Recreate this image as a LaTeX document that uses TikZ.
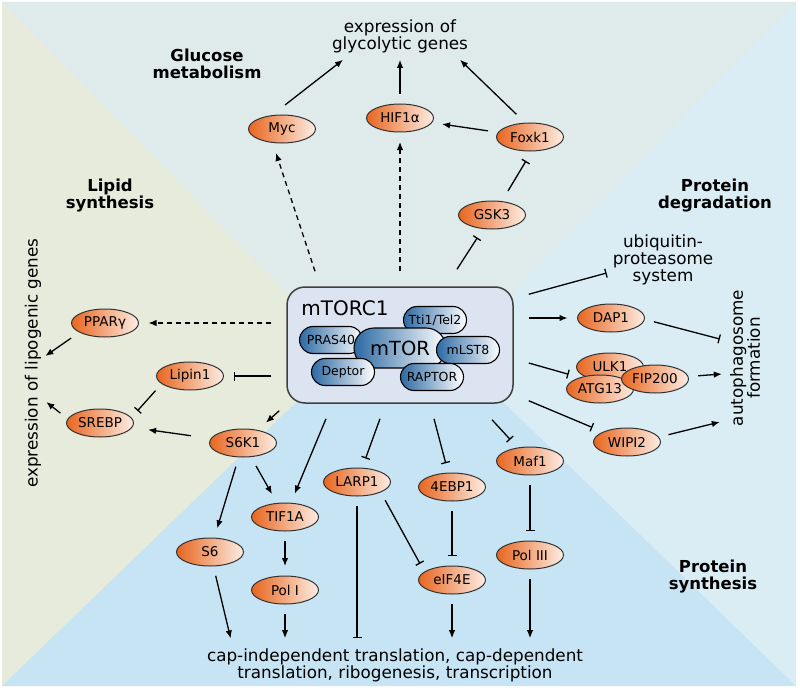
\documentclass[tikz,border=0pt]{standalone}
\usepackage{fontspec}
\setmainfont{DejaVu Sans}
\usepackage{tikz}
\usetikzlibrary{arrows.meta,positioning,shapes.geometric,shapes.misc,calc}

\definecolor{lipidbg}{HTML}{E6EBDC}
\definecolor{glucbg}{HTML}{DEEBEA}
\definecolor{degrbg}{HTML}{DAECF4}
\definecolor{synbg}{HTML}{C7E4F4}
\definecolor{protor}{HTML}{E8661F}
\definecolor{protlt}{HTML}{FDEDE4}
\definecolor{subbl}{HTML}{2C69A3}
\definecolor{boxbg}{HTML}{DCE3F1}

\begin{document}
\begin{tikzpicture}[x=1pt, y=-1pt,
  txt/.style={font=\fontsize{16.8}{17}\selectfont, align=center, inner sep=0pt},
  lbl/.style={font=\fontsize{16.5}{17}\selectfont\bfseries, align=center, inner sep=0pt},
  prot/.style={ellipse, draw=black!80, line width=1pt, left color=protor, right color=protlt, minimum width=67pt, minimum height=28pt, inner sep=0pt, outer sep=10pt, font=\fontsize{13.5}{14}\selectfont},
  subunit/.style={rounded rectangle, draw=black, line width=1.1pt, left color=subbl, right color=white, minimum width=63pt, minimum height=27pt, inner sep=0pt, font=\fontsize{12.5}{13}\selectfont},
  act/.style={line width=1.3pt, -{Latex[length=8pt,width=6.5pt]}},
  inh/.style={line width=1.3pt, -{Bar[width=9pt,line width=1.3pt]}},
  dact/.style={act, dash pattern=on 5pt off 4pt}]

\fill[white] (0,0) rectangle (800,690);
\useasboundingbox (0,0) rectangle (800,690);
\fill[degrbg] (2,2) rectangle (796,686);
\fill[lipidbg] (2,2) -- (400,345) -- (2,686) -- cycle;
\fill[glucbg] (2,2) -- (796,2) -- (400,408) -- cycle;
\fill[synbg] (2,686) -- (400,302) -- (796,686) -- cycle;

\node[txt] (glyc) at (400,36) {expression of\\glycolytic genes};
\node[lbl] (glucose) at (207,64) {Glucose\\metabolism};
\node[lbl] (lipid) at (110,196) {Lipid\\synthesis};
\node[lbl] (degr) at (715,196) {Protein\\degradation};
\node[lbl] (synth) at (713,577) {Protein\\synthesis};
\node[txt] (ubi) at (663,260) {ubiquitin-\\proteasome\\system};
\node[txt, rotate=90] (lipo) at (33,363) {expression of lipogenic genes};
\node[txt, rotate=90] (auto) at (745,358) {autophagosome\\formation};
\node[txt] (captext) at (395,665) {cap-independent translation, cap-dependent\\translation, ribogenesis, transcription};

\node[draw=black!75, line width=1.5pt, fill=boxbg, rounded corners=18pt, minimum width=226pt, minimum height=116pt] (mtorc) at (400,345) {};
\node[font=\fontsize{20}{20}\selectfont, inner sep=0pt] (mtorclbl) at (345,308) {mTORC1};
\node[subunit] (pras) at (331,340) {PRAS40};
\node[subunit] (tti) at (435,320) {Tti1/Tel2};
\node[subunit, minimum width=92pt, minimum height=40pt, font=\fontsize{19.5}{20}\selectfont] (mtor) at (400,348) {mTOR};
\node[subunit] (deptor) at (343,372) {Deptor};
\node[subunit] (mlst) at (468,350) {mLST8};
\node[subunit] (raptor) at (432,377) {RAPTOR};

\node[prot] (myc) at (282,129) {Myc};
\node[prot] (hif) at (400,118) {HIF1α};
\node[prot] (foxk) at (530,137) {Foxk1};
\node[prot] (gsk) at (492,215) {GSK3};
\node[prot] (ppar) at (105,323) {PPARγ};
\node[prot] (lipin) at (190,376) {Lipin1};
\node[prot] (srebp) at (100,423) {SREBP};
\node[prot] (s6k) at (243,443) {S6K1};
\node[prot] (tif) at (285,517) {TIF1A};
\node[prot, below=25pt of tif] (poli) {Pol I};
\node[prot] (s6) at (210,552) {S6};
\node[prot] (larp) at (357,482) {LARP1};
\node[prot] (ebp) at (452,487) {4EBP1};
\node[prot, below=45pt of ebp] (eif) {eIF4E};
\node[prot] (maf) at (530,461) {Maf1};
\node[prot, below=46pt of maf] (pol3) {Pol III};
\node[prot] (dap) at (611,318) {DAP1};
\node[prot] (ulk) at (610,367) {ULK1};
\node[prot] (atg) at (600,389) {ATG13};
\node[prot] (fip) at (655,379) {FIP200};
\node[prot] (wipi) at (627,442) {WIPI2};

\draw[dact] ([xshift=-85pt,yshift=15pt]mtorc.north) -- ([xshift=-6pt]myc.south);
\draw[dact] ([yshift=15pt]mtorc.north) -- (hif);
\draw[inh] ([xshift=57pt,yshift=17pt]mtorc.north) -- (gsk);
\draw[inh] ([xshift=16pt]gsk.north) -- ([xshift=-4pt]foxk.south);
\draw[act] (foxk) -- (hif);
\draw[act] (foxk.121) -- ([xshift=60pt,yshift=-7pt]glyc.south);
\draw[act] (hif) -- ([yshift=-7pt]glyc.south);
\draw[act] ([xshift=3pt]myc.north) -- ([xshift=-57pt,yshift=-7pt]glyc.south);

\draw[dact, shorten <=15pt] (mtorc.west |- ppar) -- (ppar);
\draw[inh, shorten <=15pt] (mtorc.west |- lipin) -- (lipin);
\draw[inh] (lipin.203) -- (srebp.18);
\draw[act, shorten <=10pt, shorten >=6pt] (s6k) -- (srebp);
\draw[act] (ppar.204) -- ([xshift=4pt,yshift=7pt]lipo.south);
\draw[act] (srebp.166) -- ([xshift=5pt,yshift=-39pt]lipo.south);
\draw[act] ([xshift=-7pt,yshift=-7pt]mtorc.south west) -- (s6k);

\draw[act] ([xshift=-74pt,yshift=-15pt]mtorc.south) -- (tif);
\draw[act] (s6k) -- (tif);
\draw[act] (s6k) -- (s6);
\draw[inh] ([xshift=-20pt,yshift=-15pt]mtorc.south) -- (larp);
\draw[inh] ([xshift=34pt,yshift=-15pt]mtorc.south) -- (ebp);
\draw[inh] ([xshift=92pt,yshift=-16pt]mtorc.south) -- (maf);
\draw[inh] ([xshift=15pt,yshift=3pt]mtorc.south east) -- (wipi);
\draw[inh] (larp.-33) -- (eif.153);
\draw[inh] (ebp) -- (eif);
\draw[inh] (maf) -- (pol3);
\draw[act] (tif) -- (poli);
\draw[act, shorten >=10pt] (poli) -- (poli |- captext.north);
\draw[act, shorten >=10pt] (eif) -- (eif |- captext.north);
\draw[act, shorten >=10pt] (pol3) -- (pol3 |- captext.north);
\draw[inh, shorten >=10pt] (larp) -- (larp |- captext.north);
\draw[act, shorten >=10pt] (s6) -- ([xshift=-162pt]captext.north);

\draw[inh] ([xshift=15pt,yshift=-8pt]mtorc.north east) -- ([xshift=-6pt,yshift=-13pt]ubi.west);
\draw[act, shorten <=15pt] (mtorc.east |- dap) -- (dap);
\draw[inh] (dap.-5) -- ([xshift=-10pt,yshift=19pt]auto.north);
\draw[inh] ([xshift=15pt,yshift=-18pt]mtorc.east) -- (ulk.190);
\draw[act] (fip) -- ([xshift=-8pt,yshift=-16pt]auto.north);
\draw[act] (wipi.10) -- ([xshift=-10pt,yshift=-64pt]auto.north);
\end{tikzpicture}
\end{document}
